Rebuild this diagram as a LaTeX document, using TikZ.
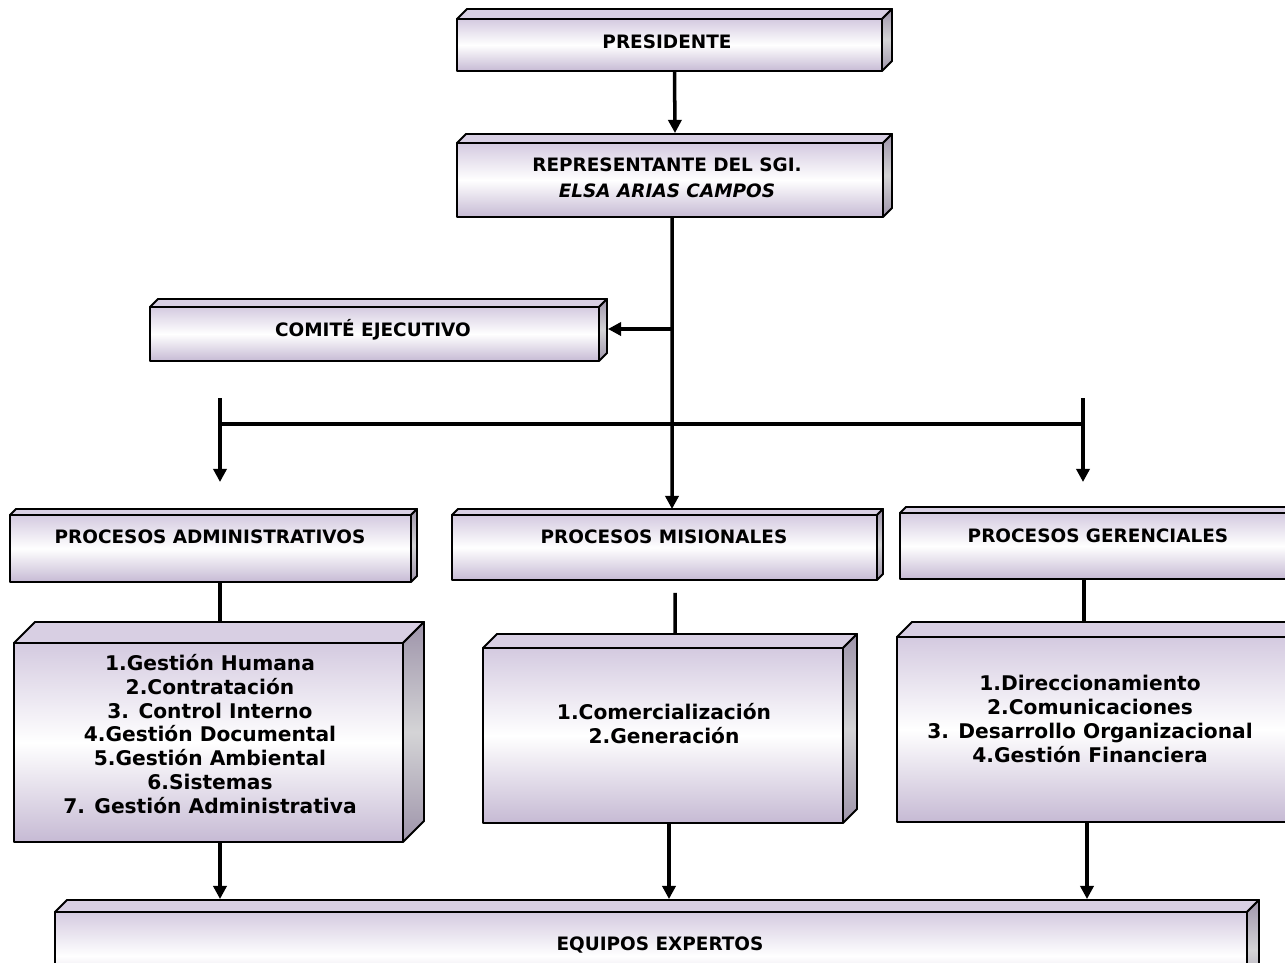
\documentclass[tikz,border=0pt]{standalone}
\usepackage{fontspec}
\setmainfont{DejaVu Sans}
\usetikzlibrary{arrows.meta,calc}
\definecolor{lavA}{RGB}{212,202,224}
\definecolor{lavB}{RGB}{198,186,212}
\definecolor{lavTop}{RGB}{216,207,227}
\definecolor{sideA}{RGB}{158,148,170}
\definecolor{sideB}{RGB}{212,212,214}
\tikzset{
  boxline/.style={draw=black, line width=1.1pt, line join=round},
  frontface/.style={boxline, top color=lavA, bottom color=lavB, middle color=white, inner sep=0pt},
  topface/.style={boxline, fill=lavTop},
  sideface/.style={boxline, top color=sideA, bottom color=sideA, middle color=sideB},
  headtxt/.style={font=\fontsize{10.5}{15}\selectfont\bfseries, align=center, inner sep=0pt},
  listtxt/.style={font=\fontsize{11.5}{13.6}\selectfont\bfseries, align=center, inner sep=0pt},
  conn/.style={line width=2pt},
  arr/.style={conn, -{Triangle[length=7.5pt,width=7.5pt]}},
}
\newcommand\tdbox[6]{%
  \pgfmathsetmacro\tdw{(#4-#2)*0.02}%
  \pgfmathsetmacro\tdh{(#5-#3)*0.02}%
  \path[topface] (#2,#3) -- (#2+#6,#3-#6) -- (#4+#6,#3-#6) -- (#4,#3) -- cycle;
  \path[sideface] (#4,#3) -- (#4+#6,#3-#6) -- (#4+#6,#5-#6) -- (#4,#5) -- cycle;
  \node[frontface, minimum width=\tdw cm, minimum height=\tdh cm] (#1) at ({(#2+#4)/2},{(#3+#5)/2}) {};
}
\begin{document}
\begin{tikzpicture}[x=0.02cm, y=-0.02cm]
\useasboundingbox (0,0) rectangle (1285,963);
\clip (0,0) rectangle (1285,963);
\fill[white] (0,0) rectangle (1285,963);

\tdbox{pres}{457}{19}{882}{71}{10}
\tdbox{rep}{457}{143}{883}{217}{9}
\tdbox{com}{150}{307}{599}{361}{8}
\tdbox{adm}{10}{515}{411}{582}{6}
\tdbox{mis}{452}{515}{877}{580}{6}
\tdbox{ger}{900}{513}{1300}{579}{6}
\tdbox{ladm}{14}{643}{403}{842}{21}
\tdbox{lmis}{483}{648}{843}{823}{14}
\tdbox{lger}{897}{637}{1300}{822}{15}
\tdbox{eq}{55}{912}{1247}{1000}{12}

\node[headtxt] (presT) at (667,42) {PRESIDENTE};
\node[headtxt] (repT) at (667,178) {REPRESENTANTE DEL SGI.\\\textit{ELSA ARIAS CAMPOS}};
\node[headtxt] (comT) at (373,330) {COMITÉ EJECUTIVO};
\node[headtxt] (admT) at (210,537) {PROCESOS ADMINISTRATIVOS};
\node[headtxt] (misT) at (664,537) {PROCESOS MISIONALES};
\node[headtxt] (gerT) at (1098,536) {PROCESOS GERENCIALES};
\node[listtxt] (ladmT) at (210,734) {1.Gestión Humana\\2.Contratación\\3. Control Interno\\4.Gestión Documental\\5.Gestión Ambiental\\6.Sistemas\\7. Gestión Administrativa};
\node[listtxt] (lmisT) at (664,724) {1.Comercialización\\2.Generación};
\node[listtxt] (lgerT) at (1090,719) {1.Direccionamiento\\2.Comunicaciones\\3. Desarrollo Organizacional\\4.Gestión Financiera};
\node[headtxt] (eqT) at (660,945) {EQUIPOS EXPERTOS};

% connectors
\draw[arr] ($(pres.south)+(5,0)$) -- ($(rep.north)+(5,-9)$);
\draw[arr] ($(rep.south)+(2,0)$) -- ($(mis.north)+(7.5,-5)$);
\coordinate (j1) at (672,329);
\draw[arr] (j1) -- ($(com.east)+(8,-5)$);
\coordinate (bl) at (220,424);
\coordinate (br) at (1083,424);
\draw[conn] (bl) -- (br);
\coordinate (tl1) at (220,398);
\coordinate (tl2) at (220,482);
\draw[arr] (tl1) -- (tl2);
\coordinate (tr1) at (1083,398);
\coordinate (tr2) at (1083,482);
\draw[arr] (tr1) -- (tr2);
\draw[conn] ($(adm.south)+(9.5,0)$) -- ($(ladm.north)+(11.5,-21)$);
\draw[conn] ($(mis.south)+(10.5,12)$) -- ($(lmis.north)+(12,-14)$);
\draw[conn] ($(ger.south)+(-16,0)$) -- ($(lger.north)+(-14.5,-15)$);
\draw[arr] ($(ladm.south)+(11.5,0)$) -- ($(ladm.south |- eq.north)+(11.5,-12)$);
\draw[arr] ($(lmis.south)+(6,0)$) -- ($(lmis.south |- eq.north)+(6,-12)$);
\draw[arr] ($(lger.south)+(-11.5,0)$) -- ($(lger.south |- eq.north)+(-11.5,-12)$);
\end{tikzpicture}
\end{document}
